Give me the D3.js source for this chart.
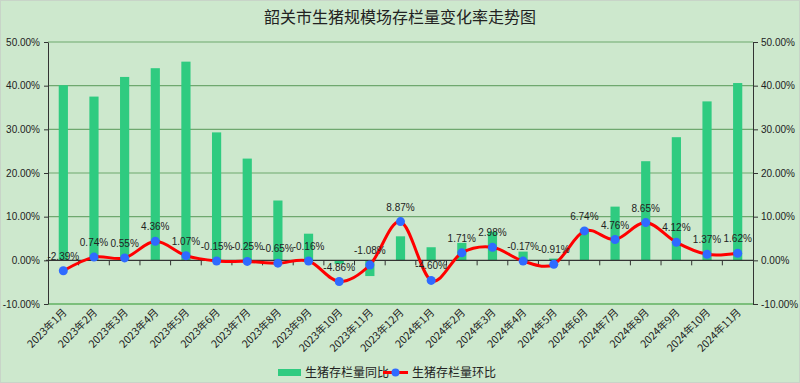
<!DOCTYPE html>
<html><head><meta charset="utf-8">
<script src="https://cdn.jsdelivr.net/npm/d3@7"></script>
<style>
html,body{margin:0;padding:0;background:#cde8cd;}
svg{display:block;font-family:"Noto Sans CJK SC","Noto Sans",sans-serif;}
</style></head>
<body>
<svg id="chart" width="800" height="383"></svg>
<script>
const categories = ["2023年1月","2023年2月","2023年3月","2023年4月","2023年5月","2023年6月","2023年7月","2023年8月","2023年9月","2023年10月","2023年11月","2023年12月","2024年1月","2024年2月","2024年3月","2024年4月","2024年5月","2024年6月","2024年7月","2024年8月","2024年9月","2024年10月","2024年11月"];
const yoyValues = [40.1,37.5,42.0,44.0,45.5,29.3,23.3,13.7,6.1,-0.8,-3.6,5.5,3.0,4.0,6.6,2.0,0.4,7.2,12.3,22.7,28.2,36.4,40.6];
const momValues = [-2.39,0.74,0.55,4.36,1.07,-0.15,-0.25,-0.65,-0.16,-4.86,-1.08,8.87,-4.60,1.71,2.98,-0.17,-0.91,6.74,4.76,8.65,4.12,1.37,1.62];
const tickValues = [-10,0,10,20,30,40,50];
const seriesNames = ["生猪存栏量同比","生猪存栏量环比"];
const title = "韶关市生猪规模场存栏量变化率走势图";

const svg = d3.select("#chart");
const W = 800, H = 383;
const m = {left:48, right:47, top:42, bottom:79};
const x0 = m.left, x1 = W - m.right, yTop = m.top, yBot = H - m.bottom;
const numFont = "Liberation Sans, Arial, sans-serif";

svg.append("rect").attr("x",0.5).attr("y",0.5).attr("width",W-1).attr("height",H-1)
  .attr("fill","#cde8cd").attr("stroke","#c8d4c8");

const x = d3.scaleBand().domain(categories).range([x0,x1]).paddingInner(0.7).paddingOuter(0.35);
const xb = d3.scaleBand().domain(categories).range([x0,x1]);
const yL = d3.scaleLinear().domain([-10,50]).range([yBot,yTop]);
const yR = d3.scaleLinear().domain([-10,50]).range([yBot,yTop]);

// title
svg.append("text").attr("x",400).attr("y",23).attr("text-anchor","middle")
  .attr("font-size",16).attr("fill","#222").text(title);

// gridlines
svg.append("g").selectAll("line").data(tickValues.filter(v=>v!==0)).join("line")
  .attr("x1",x0).attr("x2",x1).attr("y1",d=>yL(d)).attr("y2",d=>yL(d))
  .attr("stroke",d=>d===-10?"#7cbf7c":"#6fa86f").attr("stroke-width",d=>d===-10?2:1.2);

// bars
svg.append("g").selectAll("rect").data(yoyValues).join("rect")
  .attr("x",(d,i)=>x(categories[i]))
  .attr("width",x.bandwidth())
  .attr("y",d=>yL(Math.max(0,d)))
  .attr("height",d=>Math.abs(yL(d)-yL(0)))
  .attr("fill","#2fcb80");

// left axis
const leftAxis = d3.axisLeft(yL).tickValues(tickValues).tickSize(4).tickSizeOuter(0)
  .tickFormat(d=>d.toFixed(2)+"%").tickPadding(4);
const gl = svg.append("g").attr("transform",`translate(${x0},0)`).call(leftAxis);
gl.select(".domain").attr("stroke","#333");
gl.selectAll(".tick line").attr("stroke","#333");
gl.selectAll("text").attr("font-size",10).attr("fill","#222").attr("font-family",numFont);

// right axis
const rightAxis = d3.axisRight(yR).tickValues(tickValues).tickSize(5).tickSizeOuter(0)
  .tickFormat(d=>d.toFixed(2)+"%").tickPadding(3);
const gr = svg.append("g").attr("transform",`translate(${x1},0)`).call(rightAxis);
gr.select(".domain").attr("stroke","#333");
gr.selectAll(".tick line").attr("stroke","#333");
gr.selectAll("text").attr("font-size",10).attr("fill","#222").attr("font-family",numFont);

// zero line with category ticks
const zeroY = yL(0);
svg.append("line").attr("x1",x0-2).attr("x2",x1).attr("y1",zeroY).attr("y2",zeroY)
  .attr("stroke","#333").attr("stroke-width",1.2);
svg.append("g").selectAll("line").data(categories.slice(1)).join("line")
  .attr("x1",d=>xb(d)).attr("x2",d=>xb(d)).attr("y1",zeroY).attr("y2",zeroY+5)
  .attr("stroke","#333");

// x labels
svg.append("g").selectAll("text").data(categories).join("text")
  .attr("transform",d=>`translate(${xb(d)+xb.bandwidth()/2+4},${yBot+9}) rotate(-45)`)
  .attr("text-anchor","end").attr("font-size",10.5).attr("fill","#222").text(d=>d);

// line
const pts = momValues.map((v,i)=>[xb(categories[i])+xb.bandwidth()/2, yR(v)]);
svg.append("path").attr("d",d3.line().curve(d3.curveCatmullRom.alpha(0))(pts))
  .attr("fill","none").attr("stroke","#ff0000").attr("stroke-width",3);
svg.append("g").selectAll("circle").data(pts).join("circle")
  .attr("cx",d=>d[0]).attr("cy",d=>d[1]).attr("r",4.5).attr("fill","#2f6bff");

// data labels
svg.append("g").selectAll("text").data(momValues).join("text")
  .attr("x",(d,i)=>pts[i][0]).attr("y",(d,i)=>pts[i][1]-11)
  .attr("text-anchor","middle").attr("font-size",10).attr("fill","#222")
  .attr("font-family",numFont)
  .text(d=>d.toFixed(2)+"%");

// legend
const lg = svg.append("g").attr("transform","translate(0,372)");
lg.append("rect").attr("x",278).attr("y",-3).attr("width",23).attr("height",7).attr("fill","#2fcb80");
lg.append("text").attr("x",305).attr("y",4.5).attr("font-size",12).attr("fill","#222").text(seriesNames[0]);
lg.append("line").attr("x1",383).attr("x2",408).attr("y1",0.5).attr("y2",0.5).attr("stroke","#ff0000").attr("stroke-width",3);
lg.append("circle").attr("cx",395.5).attr("cy",0.5).attr("r",4).attr("fill","#2f6bff");
lg.append("text").attr("x",412).attr("y",4.5).attr("font-size",12).attr("fill","#222").text(seriesNames[1]);
</script>
</body></html>
